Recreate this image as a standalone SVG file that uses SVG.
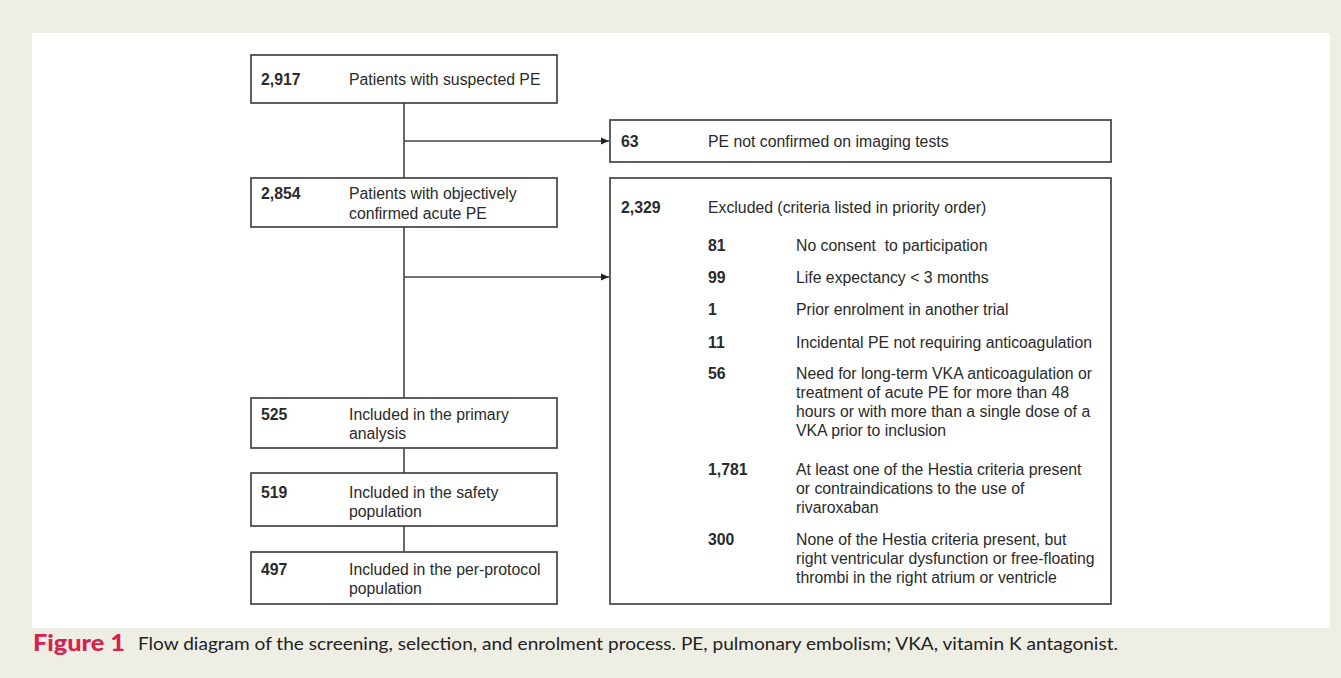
<svg xmlns="http://www.w3.org/2000/svg" width="1341" height="678" viewBox="0 0 1341 678">
<style>
.box{fill:#fff;stroke:#444;stroke-width:1.7}
.t{font-family:"Liberation Sans",Arial,sans-serif;font-size:15.8px;fill:#2a2a2a}
.n{font-weight:bold}
.ln{stroke:#444;stroke-width:1.6;fill:none}
.cap{font-family:Lato,"Open Sans",sans-serif;font-size:17px;fill:#222}
</style>
<defs>
<marker id="ah" viewBox="0 0 8 8" refX="8" refY="4" markerWidth="8" markerHeight="8" markerUnits="userSpaceOnUse" orient="auto">
<path d="M0,0.5 L8,4 L0,7.5 Z" fill="#222"/>
</marker>
</defs>
<rect x="0" y="0" width="1341" height="678" fill="#efeee5"/>
<rect x="32" y="33" width="1298" height="595" fill="#fff"/>

<g id="connectors">
<line class="ln" x1="404" y1="103" x2="404" y2="178"/>
<line class="ln" x1="404" y1="141" x2="609" y2="141" marker-end="url(#ah)"/>
<line class="ln" x1="404" y1="227" x2="404" y2="398"/>
<line class="ln" x1="404" y1="277" x2="609" y2="277" marker-end="url(#ah)"/>
<line class="ln" x1="404" y1="448" x2="404" y2="473"/>
<line class="ln" x1="404" y1="526" x2="404" y2="552"/>
</g>

<g id="n2917">
<rect class="box" x="251" y="55" width="306" height="48"/>
<text class="t n" x="261" y="85">2,917</text>
<text class="t" x="349" y="85">Patients with suspected PE</text>
</g>

<g id="n2854">
<rect class="box" x="251" y="178" width="306" height="49"/>
<text class="t n" x="261" y="199">2,854</text>
<text class="t" x="349" y="199">Patients with objectively</text>
<text class="t" x="349" y="219">confirmed acute PE</text>
</g>

<g id="n63">
<rect class="box" x="610" y="120" width="501" height="42"/>
<text class="t n" x="621" y="147">63</text>
<text class="t" x="708" y="147">PE not confirmed on imaging tests</text>
</g>

<g id="n2329">
<rect class="box" x="610" y="178" width="501" height="426"/>
<text class="t n" x="621" y="213">2,329</text>
<text class="t" x="708" y="213">Excluded (criteria listed in priority order)</text>
<text class="t n" x="708" y="251">81</text>
<text class="t" x="796" y="251">No consent&#160; to participation</text>
<text class="t n" x="708" y="283">99</text>
<text class="t" x="796" y="283">Life expectancy &lt; 3 months</text>
<text class="t n" x="708" y="315">1</text>
<text class="t" x="796" y="315">Prior enrolment in another trial</text>
<text class="t n" x="708" y="348">11</text>
<text class="t" x="796" y="348">Incidental PE not requiring anticoagulation</text>
<text class="t n" x="708" y="379">56</text>
<text class="t" x="796" y="379">Need for long-term VKA anticoagulation or</text>
<text class="t" x="796" y="398">treatment of acute PE for more than 48</text>
<text class="t" x="796" y="417">hours or with more than a single dose of a</text>
<text class="t" x="796" y="436">VKA prior to inclusion</text>
<text class="t n" x="708" y="475">1,781</text>
<text class="t" x="796" y="475">At least one of the Hestia criteria present</text>
<text class="t" x="796" y="494">or contraindications to the use of</text>
<text class="t" x="796" y="513">rivaroxaban</text>
<text class="t n" x="708" y="545">300</text>
<text class="t" x="796" y="545">None of the Hestia criteria present, but</text>
<text class="t" x="796" y="564">right ventricular dysfunction or free-floating</text>
<text class="t" x="796" y="583">thrombi in the right atrium or ventricle</text>
</g>

<g id="n525">
<rect class="box" x="251" y="398" width="306" height="50"/>
<text class="t n" x="261" y="420">525</text>
<text class="t" x="349" y="420">Included in the primary</text>
<text class="t" x="349" y="439">analysis</text>
</g>

<g id="n519">
<rect class="box" x="251" y="473" width="306" height="53"/>
<text class="t n" x="261" y="498">519</text>
<text class="t" x="349" y="498">Included in the safety</text>
<text class="t" x="349" y="517">population</text>
</g>

<g id="n497">
<rect class="box" x="251" y="552" width="306" height="52"/>
<text class="t n" x="261" y="575">497</text>
<text class="t" x="349" y="575">Included in the per-protocol</text>
<text class="t" x="349" y="594">population</text>
</g>

<g id="caption">
<text class="cap" x="33" y="651" textLength="92" lengthAdjust="spacingAndGlyphs" style="font-weight:900;font-size:22px;fill:#d6204e">Figure 1</text>
<text class="cap" x="138" y="650" textLength="980" lengthAdjust="spacingAndGlyphs">Flow diagram of the screening, selection, and enrolment process. PE, pulmonary embolism; VKA, vitamin K antagonist.</text>
</g>
</svg>
